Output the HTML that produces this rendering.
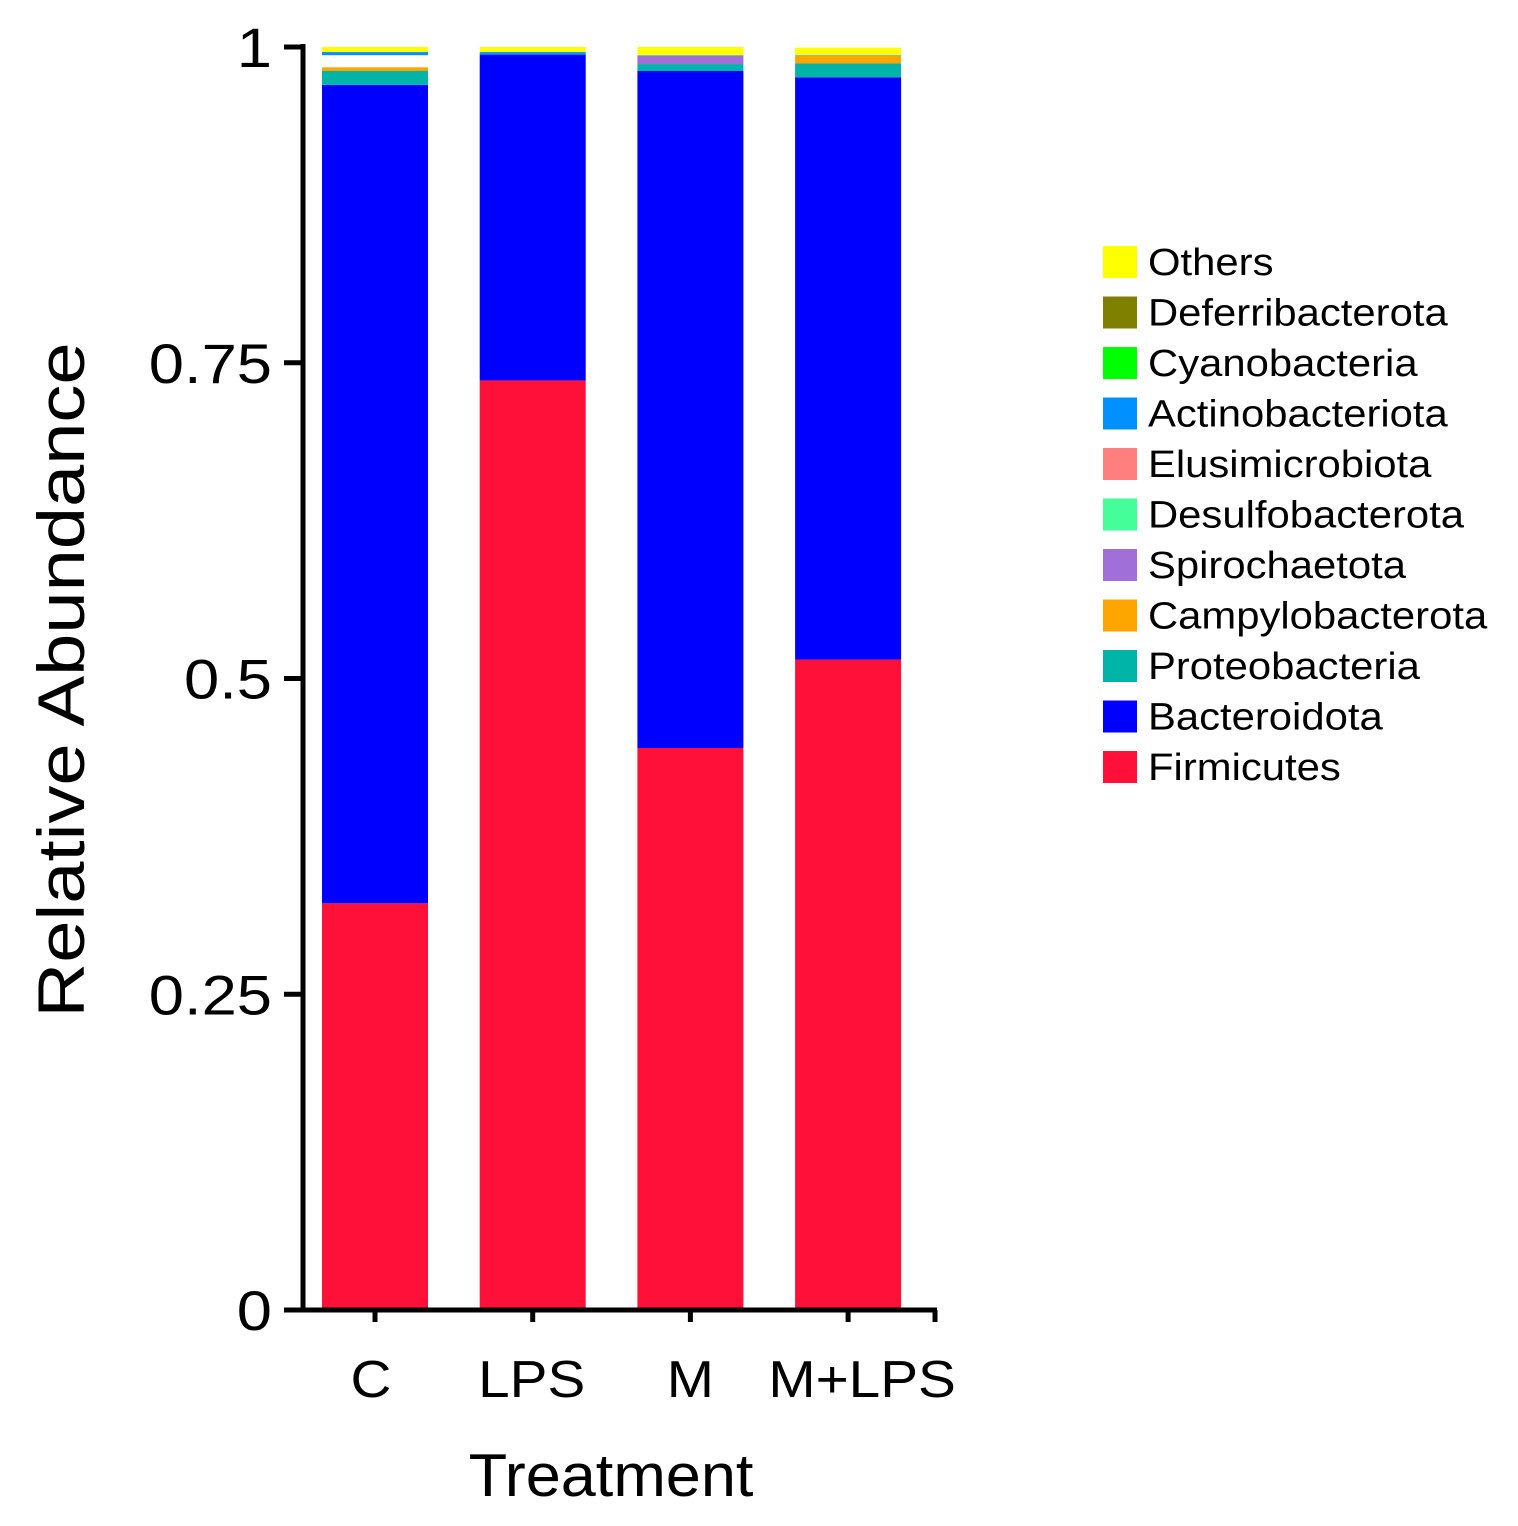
<!DOCTYPE html>
<html><head><meta charset="utf-8">
<style>
html,body{margin:0;padding:0;background:#fff;}
svg{display:block;font-family:"Liberation Sans",Arial,sans-serif;}
</style></head>
<body>
<svg id="chart" width="1518" height="1526" viewBox="0 0 1518 1526"></svg>
<script>
const categories = ["C","LPS","M","M+LPS"];
const seriesNames = ["Firmicutes","Bacteroidota","Proteobacteria","Campylobacterota","Spirochaetota","Desulfobacterota","Elusimicrobiota","unassigned","Actinobacteriota","Cyanobacteria","Deferribacterota","Others"];
const seriesColors = ["#ff1038","#0000ff","#00b4a8","#ffa500","#a070d8","#44ff99","#ff7f7f","#ffffff","#0090ff","#00ff00","#808000","#ffff00"];
const firmicutes = [0.322,0.736,0.445,0.515];
const bacteroidota = [0.648,0.258,0.536,0.461];
const proteobacteria = [0.011,0.0005,0.0055,0.011];
const campylobacterota = [0.003,0,0,0.006];
const spirochaetota = [0,0,0.0065,0];
const desulfobacterota = [0,0,0,0];
const elusimicrobiota = [0,0,0,0];
const unassigned = [0.0095,0,0,0];
const actinobacteriota = [0.0025,0.0015,0.0005,0.0005];
const cyanobacteria = [0,0,0,0];
const deferribacterota = [0,0,0,0];
const others = [0.004,0.004,0.0065,0.006];
const seriesValues = [firmicutes,bacteroidota,proteobacteria,campylobacterota,spirochaetota,desulfobacterota,elusimicrobiota,unassigned,actinobacteriota,cyanobacteria,deferribacterota,others];
const yTicks = [0,0.25,0.5,0.75,1];
const yTickLabels = ["0","0.25","0.5","0.75","1"];
const legendOrder = ["Others","Deferribacterota","Cyanobacteria","Actinobacteriota","Elusimicrobiota","Desulfobacterota","Spirochaetota","Campylobacterota","Proteobacteria","Bacteroidota","Firmicutes"];

const svg = document.getElementById('chart');
const NS = "http://www.w3.org/2000/svg";
const y0 = 1310, y1 = 47;
const yScale = v => y0 - v*(y0-y1);
const xCenter = i => 375 + i*157.7;
const labelShift = [-4,-1,0,14];
const barW = 106;
function mk(tag, attrs, parent){
  const e = document.createElementNS(NS, tag);
  for (const k in attrs) e.setAttribute(k, attrs[k]);
  (parent||svg).appendChild(e);
  return e;
}
function stretch(t, f){
  const w = t.getComputedTextLength();
  t.setAttribute('textLength', (w*f).toFixed(1));
  t.setAttribute('lengthAdjust', 'spacingAndGlyphs');
}
categories.forEach((c,i)=>{
  let cum = 0;
  const g = mk('g',{});
  
  
  seriesValues.forEach((vals,s)=>{
    const v = vals[i];
    if (v<=0) { return; }
    const yt = yScale(cum+v), yb = yScale(cum);
    const r = mk('rect',{x:xCenter(i)-barW/2,y:yt,width:barW,height:yb-yt,fill:seriesColors[s]},g);
    
    
    cum += v;
  });
});
const ya = mk('line',{x1:303,y1:44,x2:303,y2:1312,stroke:'#000','stroke-width':5});


const xa = mk('line',{x1:301,y1:1310,x2:937,y2:1310,stroke:'#000','stroke-width':5});


yTicks.forEach((t,k)=>{
  const y = yScale(t);
  const tk = mk('line',{x1:284,y1:y,x2:303,y2:y,stroke:'#000','stroke-width':5});
  
  
  const tx = mk('text',{x:272,y:y+20,'text-anchor':'end','font-size':56,fill:'#000'});
  tx.textContent = yTickLabels[k];
  
  
  stretch(tx, 1.13);
});
categories.forEach((c,i)=>{
  const x = xCenter(i);
  const tk = mk('line',{x1:x,y1:1310,x2:x,y2:1322,stroke:'#000','stroke-width':5});
  
  
  const tx = mk('text',{x:x+labelShift[i],y:1397,'text-anchor':'middle','font-size':52,fill:'#000'});
  tx.textContent = c;
  
  
  stretch(tx, 1.09);
});
const endTick = mk('line',{x1:935,y1:1310,x2:935,y2:1322,stroke:'#000','stroke-width':5});


const xt = mk('text',{x:611,y:1496,'text-anchor':'middle','font-size':60,fill:'#000'});
xt.textContent = 'Treatment';


stretch(xt, 1.05);
const yt = mk('text',{x:0,y:0,'text-anchor':'middle','font-size':66,fill:'#000',transform:'translate(84,680) rotate(-90)'});
yt.textContent = 'Relative Abundance';


stretch(yt, 1.15);
legendOrder.forEach((name,k)=>{
  const s = seriesNames.indexOf(name);
  const cy = 262 + k*50.5;
  const g = mk('g',{});
  
  
  mk('rect',{x:1103,y:cy-16,width:34,height:32,fill:seriesColors[s]},g);
  const t = mk('text',{x:1148,y:cy+13,'font-size':38,fill:'#000'},g);
  t.textContent = name;
  stretch(t, 1.1);
});
</script>
</body></html>
